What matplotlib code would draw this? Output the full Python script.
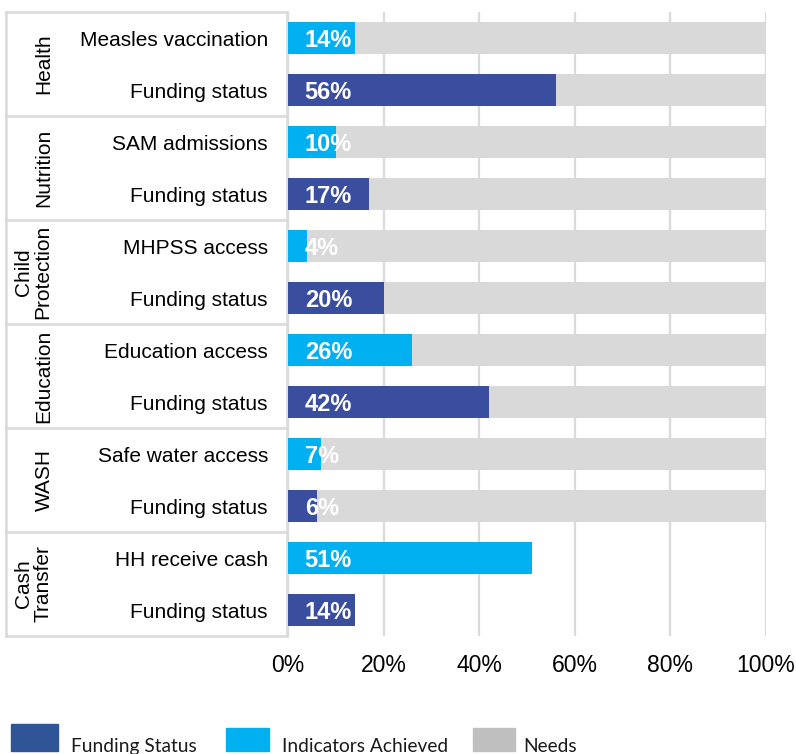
import numpy as np
import matplotlib
matplotlib.use('Agg')
import matplotlib.pyplot as plt
from matplotlib.patches import Rectangle
from matplotlib.transforms import blended_transform_factory

# data, top row first
groups     = ['Health', 'Nutrition', 'Child\nProtection', 'Education', 'WASH', 'Cash\nTransfer']
row_labels = ['Measles vaccination', 'Funding status',
              'SAM admissions', 'Funding status',
              'MHPSS access', 'Funding status',
              'Education access', 'Funding status',
              'Safe water access', 'Funding status',
              'HH receive cash', 'Funding status']
row_kind   = ['ind', 'fund'] * 6
achieved   = [14, 56, 10, 17, 4, 20, 26, 42, 7, 6, 51, 14]
needs      = [100, 100, 100, 100, 100, 100, 100, 100, 100, 100, 0, 0]
xticks     = [0, 20, 40, 60, 80, 100]
legend_labels = ['Funding Status', 'Indicators Achieved', 'Needs']

plt.rcParams['font.family'] = ['Liberation Sans', 'DejaVu Sans']

c_fund  = '#3A4EA0'
c_ind   = '#00B0F0'
c_need  = '#D9D9D9'
c_line  = '#D9D9D9'
legend_colors = ['#2F5597', '#00B0F0', '#BFBFBF']

W, H = 796, 754
fig = plt.figure(figsize=(W / 100, H / 100), dpi=100)
ax = fig.add_axes([288 / W, (H - 636) / H, 478 / W, 624 / H])

y = np.arange(len(row_labels))
bar_h = 0.62

# needs behind, achieved on top
ax.barh(y, needs, height=bar_h, color=c_need, zorder=2)
cols = [c_fund if k == 'fund' else c_ind for k in row_kind]
ax.barh(y, achieved, height=bar_h, color=cols, zorder=3)

for yi, v in zip(y, achieved):
    ax.annotate('%d%%' % v, (0, yi), xytext=(12, 0), textcoords='offset points',
                ha='left', va='center_baseline', color='white', fontsize=17,
                fontweight='bold', zorder=4)

ax.set_xlim(0, 100)
ax.set_ylim(len(row_labels) - 0.5, -0.5)
ax.set_xticks(xticks)
ax.set_xticklabels(['%d%%' % t for t in xticks], fontsize=16.5)
ax.set_yticks(y)
ax.set_yticklabels(row_labels, fontsize=15)
ax.tick_params(axis='y', length=0, pad=14.4)
ax.tick_params(axis='x', length=0, pad=13)
ax.grid(axis='x', color=c_line, lw=1.6, zorder=1)
ax.set_axisbelow(True)
for s in ax.spines.values():
    s.set_visible(False)

# group boxes on the left
tr = blended_transform_factory(fig.transFigure, ax.transData)
x0, x1 = 6 / W, 287 / W
for i in range(len(groups) + 1):
    yy = 2 * i - 0.5
    ax.plot([x0, x1], [yy, yy], color=c_line, lw=1.8, transform=tr, clip_on=False)
for xx in (x0, x1):
    ax.plot([xx, xx], [-0.5, len(row_labels) - 0.5], color=c_line, lw=1.8,
            transform=tr, clip_on=False)
for i, g in enumerate(groups):
    gx = 33 / W if '\n' in g else 44 / W
    ax.text(gx, 2 * i + 0.5, g, transform=tr, rotation=90, ha='center',
            va='center', fontsize=15, linespacing=1.05, multialignment='center')

# legend at the bottom, drawn by hand to match the cut-off look
patches_px = [(11, 724, 47, 27), (226, 728, 43, 23), (473, 728, 42, 23)]
text_x = [71, 282, 523]
for (px, py, pw, ph), c, tx, lab in zip(patches_px, legend_colors, text_x, legend_labels):
    fig.patches.append(Rectangle((px / W, (H - py - ph) / H), pw / W, ph / H,
                                 transform=fig.transFigure, color=c))
    fig.text(tx / W, 2 / H, lab, ha='left', va='baseline', fontsize=13.8,
             family=['Lato', 'DejaVu Sans'], color='#1a1a1a')

fig.savefig('out.png', dpi=100)
